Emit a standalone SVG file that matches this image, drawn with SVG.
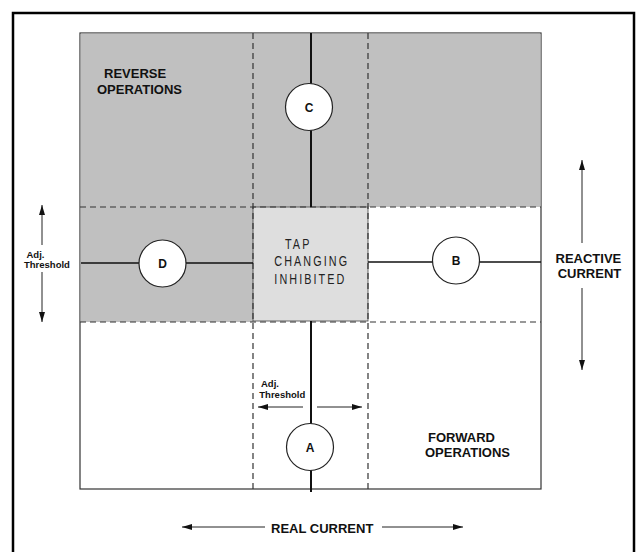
<svg xmlns="http://www.w3.org/2000/svg" width="636" height="552" viewBox="0 0 636 552">
<defs>
<style>
.lbl{font-family:"Liberation Sans",Arial,sans-serif;font-weight:bold;font-size:13px;fill:#111}
.small{font-family:"Liberation Sans",Arial,sans-serif;font-weight:bold;font-size:9.5px;fill:#111}
.node{fill:#fff;stroke:#222;stroke-width:1.2}
.nl{font-family:"Liberation Sans",Arial,sans-serif;font-weight:bold;font-size:12px;fill:#111;text-anchor:middle}
.dash{stroke:#333;stroke-width:1.2;stroke-dasharray:6 4;fill:none}
.solid{stroke:#111;fill:none}
.arr{stroke:#222;stroke-width:1;fill:none;marker-end:url(#ah)}
.tap{font-family:"Liberation Sans",Arial,sans-serif;font-size:15px;fill:#222}
</style>
<marker id="ah" markerUnits="userSpaceOnUse" markerWidth="10" markerHeight="6" refX="10" refY="3" orient="auto">
<path d="M0,0 L10,3 L0,6 z" fill="#111"/>
</marker>
</defs>
<rect x="0" y="0" width="636" height="552" fill="#fff"/>
<rect x="13" y="13" width="621" height="560" fill="none" stroke="#000" stroke-width="2.5"/>
<g id="regions">
<rect x="80" y="33" width="461" height="456" fill="#fff" stroke="#333" stroke-width="1.2"/>
<rect x="80.6" y="33.6" width="460" height="173.4" fill="#c0c0c0"/>
<rect x="80.6" y="207" width="172.4" height="115" fill="#c0c0c0"/>
<text class="lbl" x="104" y="78">REVERSE</text>
<text class="lbl" x="97" y="94">OPERATIONS</text>
<text class="lbl" x="428" y="442">FORWARD</text>
<text class="lbl" x="425" y="457">OPERATIONS</text>
</g>
<g id="tap">
<rect x="253" y="207" width="115" height="114" fill="#dedede" stroke="#444" stroke-width="0.8"/>
<text class="tap" transform="translate(285,249.3) scale(0.72,1)" letter-spacing="2.9">TAP</text>
<text class="tap" transform="translate(274.3,266) scale(0.72,1)" letter-spacing="2.9">CHANGING</text>
<text class="tap" transform="translate(274.3,284) scale(0.72,1)" letter-spacing="2.9">INHIBITED</text>
</g>
<g id="connectors">
<line class="dash" x1="80" y1="207" x2="541" y2="207"/>
<line class="dash" x1="80" y1="322" x2="541" y2="322"/>
<line class="dash" x1="253" y1="33" x2="253" y2="489"/>
<line class="dash" x1="368" y1="33" x2="368" y2="489"/>
<line class="solid" stroke-width="2" x1="311" y1="33" x2="311" y2="207"/>
<line class="solid" stroke-width="2" x1="311" y1="321" x2="311" y2="492"/>
<line class="solid" stroke-width="1.6" x1="81" y1="263" x2="253" y2="263"/>
<line class="solid" stroke-width="1.6" x1="368" y1="262" x2="541" y2="262"/>
<line class="arr" x1="582" y1="243" x2="582" y2="160"/>
<line class="arr" x1="582" y1="288" x2="582" y2="370"/>
<line class="arr" stroke="#555" x1="42" y1="245" x2="42" y2="205"/>
<line class="arr" stroke="#555" x1="42" y1="272" x2="42" y2="322"/>
<line class="arr" x1="303" y1="407" x2="258" y2="407"/>
<line class="arr" x1="317" y1="407" x2="362" y2="407"/>
<line class="arr" x1="265" y1="527" x2="182" y2="527"/>
<line class="arr" x1="382" y1="527" x2="463" y2="527"/>
</g>
<g id="node-C"><circle class="node" cx="309" cy="107" r="23.5"/><text class="nl" x="309" y="111.5">C</text></g>
<g id="node-D"><circle class="node" cx="162.5" cy="263.5" r="23.5"/><text class="nl" x="162.5" y="268">D</text></g>
<g id="node-B"><circle class="node" cx="456" cy="260.5" r="23.5"/><text class="nl" x="456" y="265">B</text></g>
<g id="node-A"><circle class="node" cx="310" cy="447" r="23.5"/><text class="nl" x="310" y="451.5">A</text></g>
<g id="labels">
<text class="lbl" x="555.5" y="262.7">REACTIVE</text>
<text class="lbl" x="557.7" y="278">CURRENT</text>
<text class="small" x="26.5" y="258.3">Adj.</text>
<text class="small" x="24" y="268.3">Threshold</text>
<text class="small" x="261" y="387.3">Adj.</text>
<text class="small" x="259.3" y="398.3">Threshold</text>
<text class="lbl" x="271" y="533.3">REAL CURRENT</text>
</g>
</svg>
